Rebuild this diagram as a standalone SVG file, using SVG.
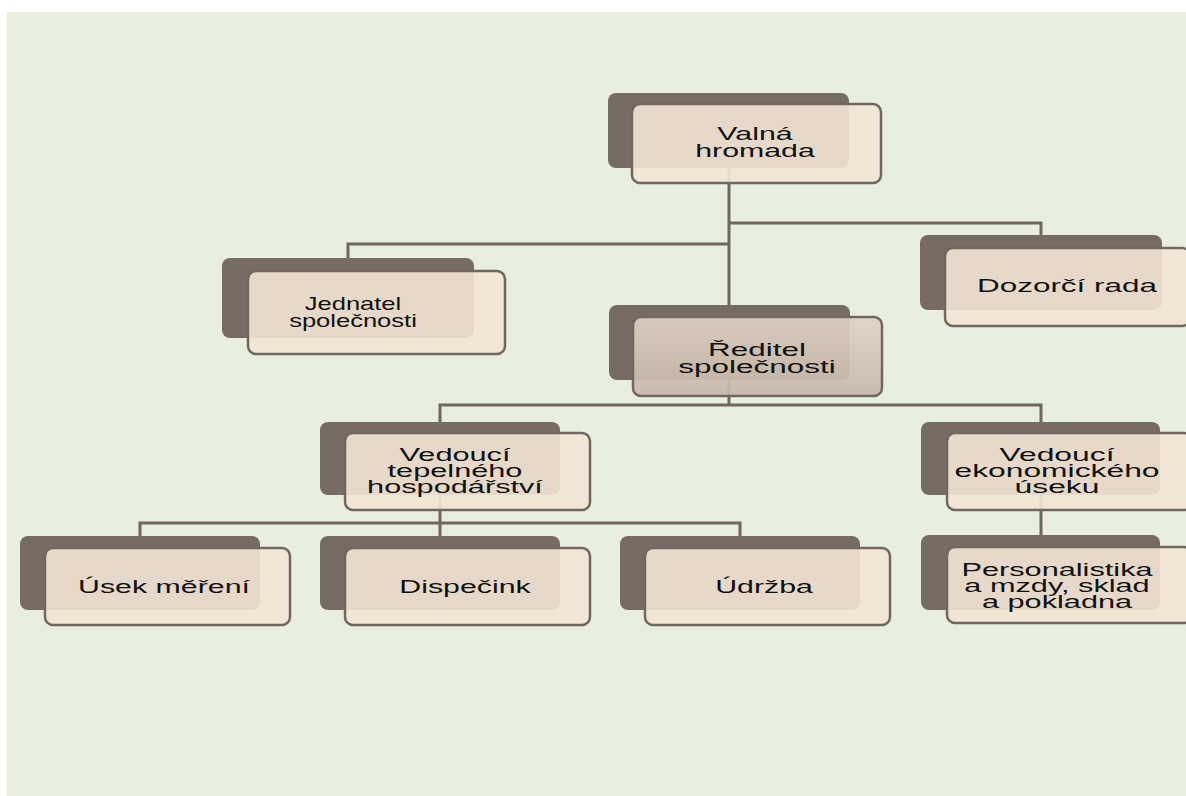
<svg xmlns="http://www.w3.org/2000/svg" width="1186" height="796" viewBox="0 0 1186 796">
<defs>
<linearGradient id="gR" x1="0" y1="0" x2="0" y2="1">
<stop offset="0" stop-color="#e0d3c5"/>
<stop offset="1" stop-color="#c6b8aa"/>
</linearGradient>
<style>
.back{fill:#776c63}
.front{fill:#f3e5d5;fill-opacity:0.9;stroke:#6f6760;stroke-width:2.5}
.frontR{fill:url(#gR);fill-opacity:0.92;stroke:#6f6760;stroke-width:2.5}
.t{font-family:"Liberation Sans",Arial,sans-serif;font-size:18.5px;fill:#111;text-anchor:middle}
.c{fill:none;stroke:#6f6760;stroke-width:3}
</style>
</defs>
<rect x="0" y="0" width="1186" height="796" fill="#ffffff"/>
<rect x="7" y="12" width="1179" height="784" fill="#e8efdf"/>
<g id="connectors">
<path class="c" d="M729 168V305"/>
<path class="c" d="M729 223H1041V235"/>
<path class="c" d="M729 244H348V258"/>
<path class="c" d="M729 380V405"/>
<path class="c" d="M440 422V405H1041V422"/>
<path class="c" d="M440 495V523"/>
<path class="c" d="M140 536V523H740V536"/>
<path class="c" d="M440 523V536"/>
<path class="c" d="M1041 495V535"/>
</g>
<g id="valna">
<rect class="back" x="608" y="93" width="241" height="75" rx="8"/>
<rect class="front" x="632" y="104" width="249" height="79" rx="8"/>
<g transform="translate(755 0) scale(1.64 1)"><text class="t" x="0" y="140">Valná</text><text class="t" x="0" y="157">hromada</text></g>
</g>
<g id="jednatel">
<rect class="back" x="222" y="258" width="252" height="80" rx="8"/>
<rect class="front" x="248" y="271" width="257" height="83" rx="8"/>
<g transform="translate(353 0) scale(1.38 1)"><text class="t" x="0" y="310">Jednatel</text><text class="t" x="0" y="327">společnosti</text></g>
</g>
<g id="reditel">
<rect class="back" x="609" y="305" width="241" height="75" rx="8"/>
<rect class="frontR" x="633" y="317" width="249" height="79" rx="8"/>
<g transform="translate(757 0) scale(1.7 1)"><text class="t" x="0" y="356">Ředitel</text><text class="t" x="0" y="373">společnosti</text></g>
</g>
<g id="dozorci">
<rect class="back" x="920" y="235" width="242" height="75" rx="8"/>
<rect class="front" x="945" y="248" width="245" height="78" rx="8"/>
<g transform="translate(1067 0) scale(1.7 1)"><text class="t" x="0" y="292">Dozorčí rada</text></g>
</g>
<g id="vedouci-tep">
<rect class="back" x="320" y="422" width="240" height="73" rx="8"/>
<rect class="front" x="345" y="433" width="245" height="77" rx="8"/>
<g transform="translate(455 0) scale(1.66 1)"><text class="t" x="0" y="461">Vedoucí</text><text class="t" x="0" y="477">tepelného</text><text class="t" x="0" y="493">hospodářství</text></g>
</g>
<g id="vedouci-eko">
<rect class="back" x="921" y="422" width="239" height="73" rx="8"/>
<rect class="front" x="947" y="433" width="245" height="77" rx="8"/>
<g transform="translate(1057 0) scale(1.72 1)"><text class="t" x="0" y="461">Vedoucí</text><text class="t" x="0" y="477">ekonomického</text><text class="t" x="0" y="493">úseku</text></g>
</g>
<g id="personalistika">
<rect class="back" x="921" y="535" width="239" height="75" rx="8"/>
<rect class="front" x="947" y="547" width="245" height="76" rx="8"/>
<g transform="translate(1057 0) scale(1.66 1)"><text class="t" x="0" y="576">Personalistika</text><text class="t" x="0" y="592">a mzdy, sklad</text><text class="t" x="0" y="608">a pokladna</text></g>
</g>
<g id="usek">
<rect class="back" x="20" y="536" width="240" height="74" rx="8"/>
<rect class="front" x="45" y="548" width="245" height="77" rx="8"/>
<g transform="translate(164 0) scale(1.64 1)"><text class="t" x="0" y="593">Úsek měření</text></g>
</g>
<g id="dispecink">
<rect class="back" x="320" y="536" width="240" height="74" rx="8"/>
<rect class="front" x="345" y="548" width="245" height="77" rx="8"/>
<g transform="translate(465 0) scale(1.64 1)"><text class="t" x="0" y="593">Dispečink</text></g>
</g>
<g id="udrzba">
<rect class="back" x="620" y="536" width="240" height="74" rx="8"/>
<rect class="front" x="645" y="548" width="245" height="77" rx="8"/>
<g transform="translate(764 0) scale(1.64 1)"><text class="t" x="0" y="593">Údržba</text></g>
</g>
</svg>
